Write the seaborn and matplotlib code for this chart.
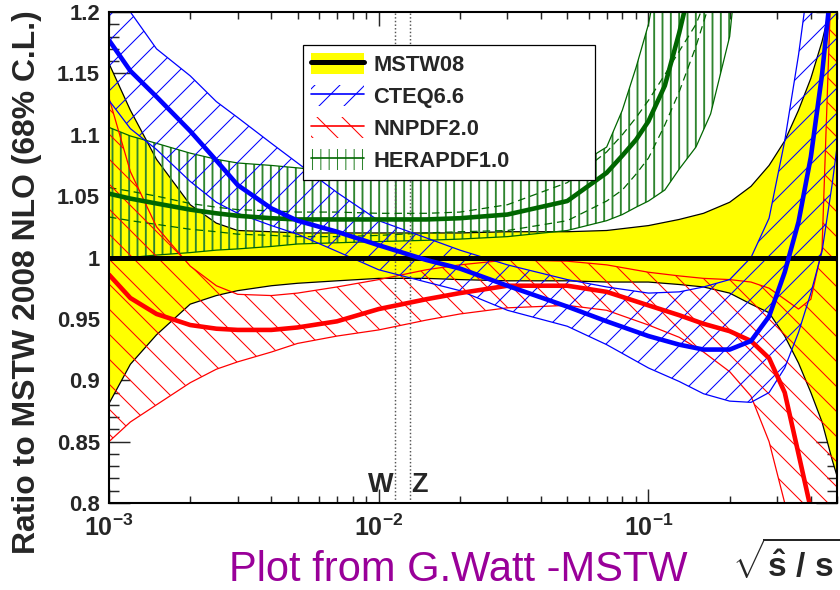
import seaborn as sns
import matplotlib.pyplot as plt
from matplotlib.patches import Patch
from matplotlib.lines import Line2D
from matplotlib.ticker import MultipleLocator, LogLocator, NullFormatter

# sqrt(shat/s) grid the curves were read at
x = [0.001, 0.0012, 0.0015, 0.002, 0.0025, 0.003, 0.004, 0.005, 0.007, 0.01,
     0.015, 0.02, 0.03, 0.05, 0.07, 0.1, 0.13, 0.16, 0.2, 0.24,
     0.28, 0.32, 0.36, 0.4, 0.44, 0.48, 0.5]

# MSTW08 band (central = 1)
mstw_hi = [1.158, 1.12, 1.08, 1.043, 1.028, 1.022, 1.021, 1.020, 1.020, 1.020,
           1.020, 1.020, 1.021, 1.021, 1.022, 1.026, 1.031, 1.036, 1.045, 1.058,
           1.075, 1.095, 1.12, 1.146, 1.176, 1.21, 1.225]
mstw_lo = [0.881, 0.913, 0.937, 0.962, 0.969, 0.973, 0.977, 0.979, 0.981, 0.983,
           0.983, 0.982, 0.981, 0.981, 0.980, 0.980, 0.978, 0.976, 0.971, 0.962,
           0.955, 0.936, 0.914, 0.890, 0.866, 0.835, 0.822]

# CTEQ6.6
cteq_c = [1.177, 1.152, 1.131, 1.103, 1.079, 1.059, 1.040, 1.030, 1.021, 1.010,
          0.998, 0.991, 0.977, 0.960, 0.948, 0.936, 0.929, 0.925, 0.925, 0.932,
          0.952, 0.988, 1.029, 1.082, 1.149, 1.23, 1.27]
cteq_hi = [1.225, 1.20, 1.17, 1.148, 1.127, 1.114, 1.093, 1.077, 1.053, 1.03,
           1.016, 1.006, 0.994, 0.982, 0.976, 0.971, 0.972, 0.976, 0.982, 1.0,
           1.032, 1.095, 1.165, 1.24, 1.32, 1.40, 1.45]
cteq_lo = [1.128, 1.105, 1.088, 1.062, 1.045, 1.036, 1.026, 1.019, 1.005, 0.990,
           0.980, 0.973, 0.957, 0.944, 0.929, 0.910, 0.899, 0.889, 0.883, 0.882,
           0.890, 0.910, 0.939, 0.971, 1.005, 1.06, 1.09]

# NNPDF2.0
nnpdf_c = [0.986, 0.967, 0.954, 0.945, 0.942, 0.941, 0.941, 0.943, 0.948, 0.958,
           0.966, 0.971, 0.977, 0.977, 0.972, 0.961, 0.953, 0.946, 0.940, 0.932,
           0.918, 0.890, 0.840, 0.795, 0.75, 0.70, 0.68]
nnpdf_hi = [1.13, 1.07, 1.025, 0.993, 0.977, 0.970, 0.969, 0.971, 0.976, 0.982,
            0.990, 0.994, 0.998, 0.997, 0.994, 0.988, 0.985, 0.983, 0.982, 0.980,
            0.975, 0.966, 0.958, 0.966, 1.007, 1.25, 1.35]
nnpdf_lo = [0.850, 0.866, 0.880, 0.898, 0.909, 0.915, 0.923, 0.930, 0.936, 0.941,
            0.949, 0.954, 0.959, 0.961, 0.957, 0.945, 0.935, 0.923, 0.907, 0.887,
            0.850, 0.800, 0.72, 0.6, 0.6, 0.6, 0.6]

# HERAPDF1.0, read on its own grid (it leaves the frame early)
hera_x = [0.001, 0.0012, 0.0015, 0.002, 0.0025, 0.003, 0.004, 0.005, 0.007, 0.01,
          0.015, 0.02, 0.03, 0.05, 0.07, 0.08, 0.09, 0.1, 0.115, 0.13,
          0.15, 0.17, 0.2, 0.24]
hera_c = [1.052, 1.048, 1.044, 1.039, 1.036, 1.034, 1.032, 1.031, 1.031, 1.031,
          1.031, 1.032, 1.035, 1.046, 1.069, 1.083, 1.096, 1.111, 1.14, 1.183,
          1.24, 1.3, 1.4, 1.6]
hera_hi = [1.106, 1.099, 1.093, 1.085, 1.08, 1.077, 1.075, 1.073, 1.070, 1.068,
           1.066, 1.066, 1.067, 1.070, 1.09, 1.12, 1.155, 1.19, 1.26, 1.33,
           1.45, 1.55, 1.7, 1.9]
hera_dhi = [1.057, 1.054, 1.05, 1.044, 1.041, 1.039, 1.038, 1.037, 1.037, 1.036,
            1.036, 1.037, 1.043, 1.061, 1.086, 1.10, 1.114, 1.128, 1.149, 1.168,
            1.19, 1.22, 1.28, 1.4]
hera_dlo = [1.033, 1.03, 1.027, 1.023, 1.021, 1.019, 1.018, 1.017, 1.017, 1.018,
            1.02, 1.021, 1.022, 1.030, 1.046, 1.055, 1.068, 1.081, 1.108, 1.135,
            1.172, 1.21, 1.28, 1.35]
hera_lo = [0.998, 1.0, 1.002, 1.004, 1.006, 1.007, 1.009, 1.011, 1.012, 1.013,
           1.014, 1.015, 1.017, 1.022, 1.030, 1.035, 1.041, 1.046, 1.055, 1.072,
           1.09, 1.117, 1.18, 1.35]

boson_names = ["W", "Z"]
boson_x = [0.01149, 0.01303]

y_ticks = [0.8, 0.85, 0.9, 0.95, 1.0, 1.05, 1.1, 1.15, 1.2]
y_labels = ["0.8", "0.85", "0.9", "0.95", "1", "1.05", "1.1", "1.15", "1.2"]
x_ticks = [1e-3, 1e-2, 1e-1]
x_labels = [r"$10^{-3}$", r"$10^{-2}$", r"$10^{-1}$"]

sns.set_style("ticks")
plt.rcParams["font.family"] = ["Liberation Sans", "DejaVu Sans"]
plt.rcParams["mathtext.fontset"] = "custom"
plt.rcParams["mathtext.rm"] = "Liberation Sans:bold"
plt.rcParams["mathtext.bf"] = "Liberation Sans:bold"
plt.rcParams["mathtext.it"] = "Liberation Sans:bold"
plt.rcParams["mathtext.default"] = "rm"
plt.rcParams["hatch.linewidth"] = 0.5

BLUE = "#0000ff"
RED = "#ff0000"
GREEN = "#006600"
GREEN_HATCH = "#2f852f"

fig = plt.figure(figsize=(5.6, 590 / 150), dpi=150)
ax = fig.add_axes([109 / 840, 1 - 503 / 590, 728 / 840, 491 / 590])

# MSTW08 yellow band
ax.fill_between(x, mstw_lo, mstw_hi, facecolor="#ffff00", edgecolor="none", zorder=1)
sns.lineplot(x=x, y=mstw_hi, ax=ax, color="k", linewidth=0.6, zorder=1.2)
sns.lineplot(x=x, y=mstw_lo, ax=ax, color="k", linewidth=0.6, zorder=1.2)

# HERAPDF1.0 vertical hatch
with plt.rc_context({"hatch.linewidth": 0.9}):
    ax.fill_between(hera_x, hera_lo, hera_hi, facecolor="none", edgecolor=GREEN_HATCH,
                    hatch="|||", linewidth=0, zorder=2)
for band in (hera_hi, hera_lo):
    sns.lineplot(x=hera_x, y=band, ax=ax, color=GREEN, linewidth=0.6, zorder=2.1)
for band in (hera_dhi, hera_dlo):
    sns.lineplot(x=hera_x, y=band, ax=ax, color=GREEN, linewidth=0.6,
                 linestyle=(0, (6, 4)), zorder=2.1)

# NNPDF2.0
ax.fill_between(x, nnpdf_lo, nnpdf_hi, facecolor="none", edgecolor=RED,
                hatch="\\\\", linewidth=0, zorder=2.2)
for band in (nnpdf_hi, nnpdf_lo):
    sns.lineplot(x=x, y=band, ax=ax, color=RED, linewidth=0.6, zorder=2.3)

# CTEQ6.6
ax.fill_between(x, cteq_lo, cteq_hi, facecolor="none", edgecolor=BLUE,
                hatch="//", linewidth=0, zorder=2.4)
for band in (cteq_hi, cteq_lo):
    sns.lineplot(x=x, y=band, ax=ax, color=BLUE, linewidth=0.6, zorder=2.5)

# W and Z masses
for name, xb, side in zip(boson_names, boson_x, ["right", "left"]):
    ax.axvline(xb, color="#555555", linestyle=(0, (1, 1.5)), linewidth=0.7, zorder=2.8)
    ax.text(xb * (0.985 if side == "right" else 1.01), 0.809, name, ha=side,
            va="baseline", fontsize=13, fontweight="bold", zorder=4)

# central curves
ax.axhline(1.0, color="k", linewidth=2.4, zorder=3)
sns.lineplot(x=hera_x, y=hera_c, ax=ax, color=GREEN, linewidth=2.2, zorder=3.1)
sns.lineplot(x=x, y=nnpdf_c, ax=ax, color=RED, linewidth=2.2, zorder=3.2)
sns.lineplot(x=x, y=cteq_c, ax=ax, color=BLUE, linewidth=2.2, zorder=3.3)

ax.set_xscale("log")
ax.set_xlim(1e-3, 0.5)
ax.set_ylim(0.8, 1.2)
ax.set_xlabel("")
ax.set_ylabel("")
ax.set_xticks(x_ticks, x_labels, fontsize=12)
ax.xaxis.set_minor_locator(LogLocator(base=10, subs=range(2, 10)))
ax.xaxis.set_minor_formatter(NullFormatter())
ax.set_yticks(y_ticks, y_labels, fontsize=10.6)
ax.yaxis.set_minor_locator(MultipleLocator(0.01))
ax.tick_params(which="both", direction="in", top=True, right=True, width=0.7)
ax.tick_params(axis="x", which="major", length=6.5, pad=5.5)
ax.tick_params(axis="x", which="minor", length=3.5)
ax.tick_params(axis="y", which="major", length=10, pad=4.3)
ax.tick_params(axis="y", which="minor", length=5)
for sp in ax.spines.values():
    sp.set_linewidth(1.0)
    sp.set_color("k")
    sp.set_zorder(6)

handles = [
    (Patch(facecolor="#ffff00", edgecolor="none"), Line2D([], [], color="k", linewidth=2.4)),
    (Patch(facecolor="none", edgecolor=BLUE, hatch="//", linewidth=0),
     Line2D([], [], color=BLUE, linewidth=0.8)),
    (Patch(facecolor="none", edgecolor=RED, hatch="\\\\", linewidth=0),
     Line2D([], [], color=RED, linewidth=0.8)),
    (Patch(facecolor="none", edgecolor=GREEN_HATCH, hatch="|||", linewidth=0),
     Line2D([], [], color=GREEN, linewidth=0.8)),
]
leg = ax.legend(handles, ["MSTW08", "CTEQ6.6", "NNPDF2.0", "HERAPDF1.0"],
                loc="upper left", bbox_to_anchor=(0.2665, 0.668, 0.401, 0.2648),
                mode="expand", prop={"weight": "bold", "size": 10.5}, frameon=True,
                fancybox=False, framealpha=1, edgecolor="k", borderpad=0.35,
                labelspacing=0.42, handlelength=2.45, handleheight=1.1,
                handletextpad=0.4, borderaxespad=0)
leg.get_frame().set_linewidth(0.6)
leg.set_zorder(7)

fig.text(27 / 840, 0.522, "Ratio to MSTW 2008 NLO (68% C.L.)", rotation=90,
         ha="center", va="center", fontsize=15.3, fontweight="bold")
fig.text(0.545, 0.0, "Plot from G.Watt -MSTW", ha="center", va="bottom",
         fontsize=20, color="#990099")
fig.text(0.999, 1 - 577 / 590, r"$\sqrt{\hat{s}\ /\ s}$", ha="right",
         va="baseline", fontsize=16)

plt.setp(ax.get_yticklabels(), fontweight="bold")
fig.savefig("out.png", dpi=150)
